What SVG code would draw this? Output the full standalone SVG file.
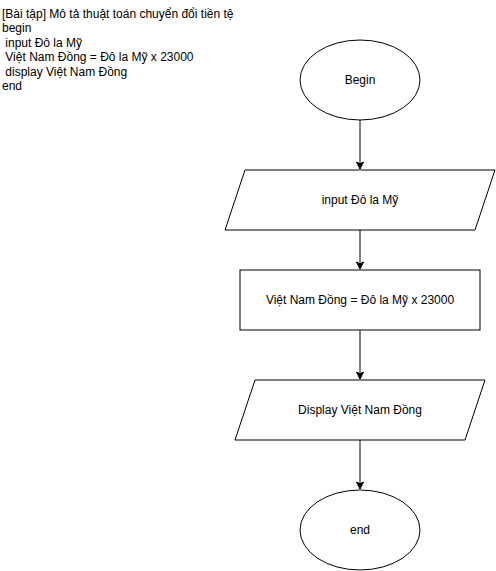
<svg xmlns="http://www.w3.org/2000/svg" width="496" height="571" viewBox="0 0 496 571">
<style>
.s{fill:#fff;stroke:#000;stroke-width:1}
.t{font-family:"Liberation Sans",Arial,Helvetica,sans-serif;font-size:12px;fill:#000}
.c{text-anchor:middle}
.e{fill:none;stroke:#000;stroke-width:1}
</style>
<defs>
<marker id="arr" markerWidth="10" markerHeight="10" refX="8" refY="5" orient="auto" markerUnits="userSpaceOnUse">
<path d="M1,1.5 L8,5 L1,8.5 L2.8,5 Z" fill="#000" stroke="#000" stroke-width="1"/>
</marker>
</defs>
<rect width="496" height="571" fill="#fff"/>
<g id="note">
<text class="t" xml:space="preserve"><tspan x="2" y="18">[Bài tập] Mô tả thuật toán chuyển đổi tiền tệ</tspan><tspan x="2" y="32.4">begin</tspan><tspan x="2" y="46.8"> input Đô la Mỹ</tspan><tspan x="2" y="61.2"> Việt Nam Đồng = Đô la Mỹ x 23000</tspan><tspan x="2" y="75.6"> display Việt Nam Đồng</tspan><tspan x="2" y="90">end</tspan></text>
</g>
<g id="connectors">
<path class="e" d="M360,120 L360,169" marker-end="url(#arr)"/>
<path class="e" d="M360,230 L360,269" marker-end="url(#arr)"/>
<path class="e" d="M360,330 L360,379" marker-end="url(#arr)"/>
<path class="e" d="M360,440 L360,489" marker-end="url(#arr)"/>
</g>
<g id="begin">
<ellipse class="s" cx="360" cy="80" rx="60" ry="40"/>
<text class="t c" x="360" y="84">Begin</text>
</g>
<g id="input">
<polygon class="s" points="245,170 495,170 475,230 225,230"/>
<text class="t c" x="360" y="204">input Đô la Mỹ</text>
</g>
<g id="process">
<rect class="s" x="240" y="270" width="240" height="60"/>
<text class="t c" x="360" y="304">Việt Nam Đồng = Đô la Mỹ x 23000</text>
</g>
<g id="display">
<polygon class="s" points="255,380 485,380 465,440 235,440"/>
<text class="t c" x="360" y="414">Display Việt Nam Đồng</text>
</g>
<g id="end">
<ellipse class="s" cx="360" cy="530" rx="60" ry="40"/>
<text class="t c" x="360" y="534">end</text>
</g>
</svg>
